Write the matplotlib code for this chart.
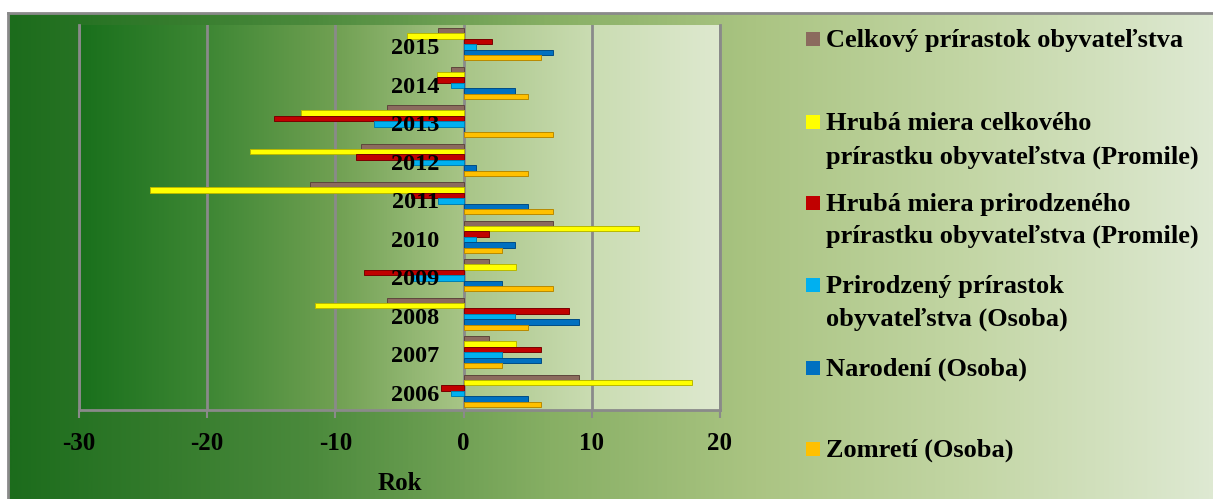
import numpy as np
import matplotlib
matplotlib.use("Agg")
import matplotlib.pyplot as plt
from matplotlib.patches import Rectangle
from matplotlib.colors import LinearSegmentedColormap

# ---------------- data ----------------
years = ['2006', '2007', '2008', '2009', '2010', '2011', '2012', '2013', '2014', '2015']
series_names = [
    "Celkový prírastok obyvateľstva",
    "Hrubá miera celkového\nprírastku obyvateľstva (Promile)",
    "Hrubá miera prirodzeného\nprírastku obyvateľstva (Promile)",
    "Prirodzený prírastok\nobyvateľstva (Osoba)",
    "Narodení (Osoba)",
    "Zomretí (Osoba)",
]
celkovy = [9, 2, -6, 2, 7, -12, -8, -6, -1, -2]
hruba_celkoveho = [17.8, 4.1, -11.6, 4.1, 13.7, -24.5, -16.7, -12.7, -2.1, -4.4]
hruba_prirodzeneho = [-1.8, 6.0, 8.2, -7.8, 2.0, -4.1, -8.4, -14.8, -2.1, 2.2]
prirodzeny = [-1, 3, 4, -4, 1, -2, -4, -7, -1, 1]
narodeni = [5, 6, 9, 3, 4, 5, 1, 0, 4, 7]
zomreti = [6, 3, 5, 7, 3, 7, 5, 7, 5, 6]
x_ticks = [-30, -20, -10, 0, 10, 20]
x_label = "Rok"

series = [celkovy, hruba_celkoveho, hruba_prirodzeneho, prirodzeny, narodeni, zomreti]
colors = ['#8B6B5E', '#FFFF00', '#C00000', '#00B0F0', '#0070C0', '#FFC000']
edges = ['#5e463c', '#b8b800', '#7a0000', '#0080b0', '#004c85', '#b88a00']

FONT = 'Liberation Serif'
W, H = 1213, 499
fig = plt.figure(figsize=(W / 100, H / 100), dpi=100)
fig.patch.set_facecolor('white')

# ---------------- outer background gradient ----------------
bg = fig.add_axes([8 / W, 0, 1 - 8 / W, 1 - 13 / H], zorder=-10)
outer_cmap = LinearSegmentedColormap.from_list('outer', [
    (0.00, (28/255, 108/255, 28/255)),
    (0.25, (75/255, 138/255, 60/255)),
    (0.45, (135/255, 175/255, 100/255)),
    (0.62, (170/255, 196/255, 130/255)),
    (0.80, (195/255, 214/255, 165/255)),
    (1.00, (222/255, 233/255, 210/255)),
])
grad = np.linspace(0, 1, 512).reshape(1, -1)
bg.imshow(grad, aspect='auto', cmap=outer_cmap, extent=[0, 1, 0, 1])
bg.set_xlim(0, 1)
bg.set_ylim(0, 1)
bg.axis('off')
bg.plot([0, 0], [0, 1], color='#8a8a8a', lw=2, transform=bg.transAxes, clip_on=False)
bg.plot([0, 1], [1, 1], color='#8a8a8a', lw=2, transform=bg.transAxes, clip_on=False)

# ---------------- main axes ----------------
left_px, right_px, top_px, bot_px = 79, 720, 25, 410
ax = fig.add_axes([left_px / W, 1 - bot_px / H, (right_px - left_px) / W, (bot_px - top_px) / H])
wall_cmap = LinearSegmentedColormap.from_list('wall', [
    (0.00, (25/255, 112/255, 28/255)),
    (0.20, (62/255, 135/255, 52/255)),
    (0.40, (112/255, 160/255, 82/255)),
    (0.60, (168/255, 197/255, 135/255)),
    (0.80, (202/255, 220/255, 178/255)),
    (1.00, (222/255, 233/255, 207/255)),
])
n = len(years)
ax.imshow(grad, aspect='auto', cmap=wall_cmap, extent=[x_ticks[0], x_ticks[-1], -0.5, n - 0.5], zorder=0)
ax.set_xlim(x_ticks[0], x_ticks[-1])
ax.set_ylim(-0.5, n - 0.5)

for xt in x_ticks:
    ax.axvline(xt, color='#8a8a8a', lw=2, zorder=1)

y = np.arange(n)
bw = 0.14
offsets = [2.5, 1.5, 0.5, -0.5, -1.5, -2.5]
for vals, off, c, ec in zip(series, offsets, colors, edges):
    ax.barh(y + off * bw, vals, height=bw, color=c, edgecolor=ec, linewidth=0.7, zorder=3)

for i, yr in enumerate(years):
    ax.text(-1.9, i - 0.12, yr, ha='right', va='center', fontsize=17.5,
            fontweight='bold', family=FONT, color='black', zorder=5)

ax.spines['top'].set_visible(False)
for s in ['left', 'right', 'bottom']:
    ax.spines[s].set_color('#8a8a8a')
    ax.spines[s].set_linewidth(2)

ax.set_yticks([])
ax.set_xticks(x_ticks)
ax.set_xticklabels([str(t) for t in x_ticks], fontsize=18, fontweight='bold', family=FONT)
ax.tick_params(axis='x', length=6, width=1.5, color='#8a8a8a', pad=10)
ax.set_xlabel(x_label, fontsize=18, fontweight='bold', family=FONT, labelpad=12)

# ---------------- legend (manual) ----------------
baselines = [[47], [130, 164], [211, 243], [293, 326], [376], [457]]
for name, c, bl in zip(series_names, colors, baselines):
    lines = name.split('\n')
    sq_bottom = bl[0] - 1
    fig.patches.append(Rectangle((806 / W, 1 - sq_bottom / H), 14 / W, 14 / H,
                                 transform=fig.transFigure, facecolor=c, edgecolor='none'))
    for line, b in zip(lines, bl):
        fig.text(826 / W, 1 - b / H, line, ha='left', va='baseline', fontsize=19,
                 fontweight='bold', family=FONT, color='black')

fig.savefig('out.png', dpi=100)
